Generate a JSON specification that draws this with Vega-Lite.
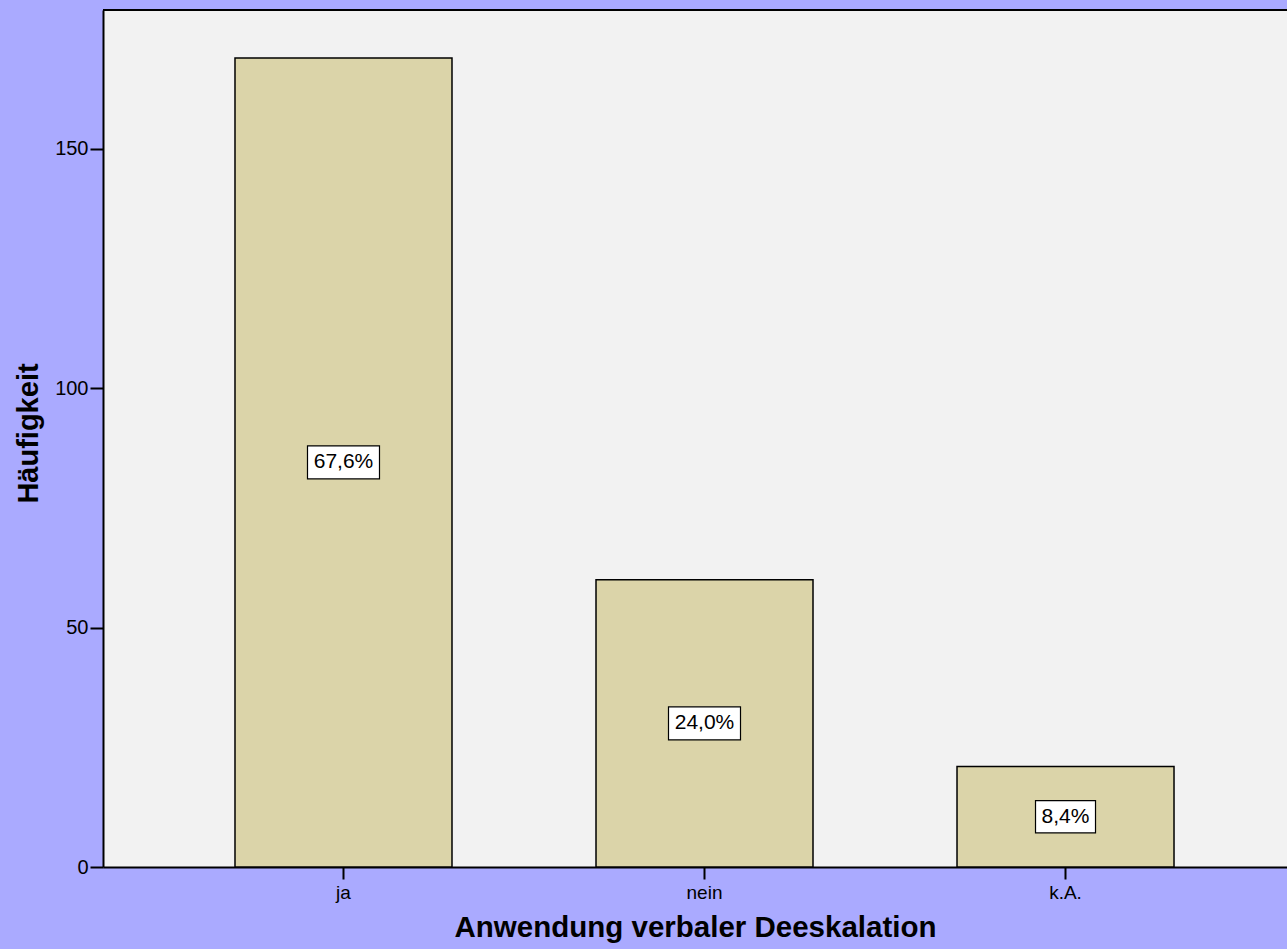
{
  "$schema": "https://vega.github.io/schema/vega-lite/v6.json",
  "autosize": {"type": "none"},
  "padding": {"left": 103, "top": 10, "right": 0, "bottom": 82},
  "width": 1184,
  "height": 857,
  "background": "#AAAAFF",
  "config": {
    "view": {"fill": "#F2F2F2", "stroke": null},
    "font": "Liberation Sans"
  },
  "data": {
    "values": [
      {"category": "ja", "count": 169, "label": "67,6%"},
      {"category": "nein", "count": 60, "label": "24,0%"},
      {"category": "k.A.", "count": 21, "label": "8,4%"}
    ]
  },
  "layer": [
    {
      "mark": {"type": "bar", "fill": "#DBD4A9", "stroke": "#000000", "strokeWidth": 1.5},
      "encoding": {
        "x": {
          "field": "category",
          "type": "nominal",
          "sort": ["ja", "nein", "k.A."],
          "scale": {"paddingInner": 0.3989, "paddingOuter": 0.3393, "align": 0.5388},
          "axis": {
            "title": "Anwendung verbaler Deeskalation",
            "titleFontSize": 29.5,
            "titleFontWeight": "bold",
            "titleColor": "#000000",
            "titlePadding": 11,
            "labelAngle": 0,
            "labelFontSize": 19,
            "labelColor": "#000000",
            "labelPadding": 4,
            "tickSize": 12,
            "tickWidth": 2,
            "tickColor": "#000000",
            "domainColor": "#000000",
            "domainWidth": 2
          }
        },
        "y": {
          "field": "count",
          "type": "quantitative",
          "scale": {"domain": [0, 179], "nice": false},
          "axis": {
            "title": "Häufigkeit",
            "titleFontSize": 29,
            "titleFontWeight": "bold",
            "titleColor": "#000000",
            "titlePadding": 11,
            "titleY": 423,
            "values": [0, 50, 100, 150],
            "labelFontSize": 20,
            "labelColor": "#000000",
            "labelPadding": 2,
            "tickSize": 13,
            "tickWidth": 2,
            "tickColor": "#000000",
            "domainColor": "#000000",
            "domainWidth": 2,
            "grid": false
          }
        }
      }
    },
    {
      "mark": {"type": "rule", "stroke": "#000000", "strokeWidth": 2},
      "encoding": {"y": {"datum": 179, "type": "quantitative"}}
    },
    {
      "transform": [
        {"calculate": "datum.count / 2", "as": "mid"},
        {"filter": "length(datum.label) == 5"}
      ],
      "mark": {"type": "point", "shape": "M-1,-0.4583H1V0.4583H-1Z", "size": 5184, "filled": true, "fill": "#FFFFFF", "stroke": "#000000", "strokeWidth": 1.2, "opacity": 1},
      "encoding": {
        "x": {"field": "category", "type": "nominal", "sort": ["ja", "nein", "k.A."]},
        "y": {"field": "mid", "type": "quantitative"}
      }
    },
    {
      "transform": [
        {"calculate": "datum.count / 2", "as": "mid"},
        {"filter": "length(datum.label) == 4"}
      ],
      "mark": {"type": "point", "shape": "M-1,-0.54H1V0.54H-1Z", "size": 3600, "filled": true, "fill": "#FFFFFF", "stroke": "#000000", "strokeWidth": 1.2, "opacity": 1},
      "encoding": {
        "x": {"field": "category", "type": "nominal", "sort": ["ja", "nein", "k.A."]},
        "y": {"field": "mid", "type": "quantitative"}
      }
    },
    {
      "transform": [{"calculate": "datum.count / 2", "as": "mid"}],
      "mark": {"type": "text", "fontSize": 21, "color": "#000000", "align": "center", "baseline": "middle"},
      "encoding": {
        "x": {"field": "category", "type": "nominal", "sort": ["ja", "nein", "k.A."]},
        "y": {"field": "mid", "type": "quantitative"},
        "text": {"field": "label"}
      }
    }
  ]
}
